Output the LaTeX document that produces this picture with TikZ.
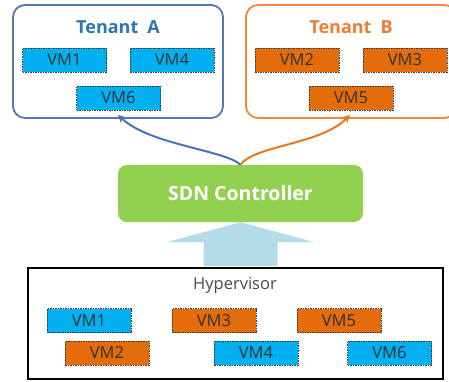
\documentclass[tikz,border=0pt]{standalone}
\usepackage{fontspec}
\setmainfont{Open Sans}
\usetikzlibrary{arrows.meta}

\definecolor{vmblue}{HTML}{00B0F0}
\definecolor{vmorange}{HTML}{E46C0A}
\definecolor{vmline}{HTML}{3A3A3A}
\definecolor{vmtext}{HTML}{333333}
\definecolor{hyptext}{HTML}{4A4A4A}
\definecolor{tenblue}{HTML}{5676B0}
\definecolor{tenbluetext}{HTML}{2E75B6}
\definecolor{tenorange}{HTML}{F0873A}
\definecolor{tenorangetext}{HTML}{ED7D31}
\definecolor{sdngreen}{HTML}{92D050}
\definecolor{feedarrow}{HTML}{B4DCE8}
\definecolor{curveblue}{HTML}{4A72B8}
\definecolor{curveorange}{HTML}{E8771F}

\tikzset{
  vm/.style={draw=vmline, dash pattern=on 1.5pt off 1pt, line width=0.8pt,
    minimum width=84pt, minimum height=24pt, inner sep=0pt, text=vmtext,
    font=\fontsize{16.5}{18}\selectfont},
  bluevm/.style={vm, fill=vmblue},
  orangevm/.style={vm, fill=vmorange},
  tenant/.style={rounded corners=12pt, line width=1.8pt, fill=white,
    minimum width=210pt, minimum height=113pt, inner sep=0pt},
  tenanttitle/.style={font=\bfseries\fontsize{18}{22}\selectfont, inner sep=0pt},
  link/.style={line width=2pt, -{Stealth[length=8pt,width=8pt]}},
}

\begin{document}
\begin{tikzpicture}[x=1pt,y=-1pt]
  \clip (0,0) rectangle (449,381);
  \fill[white] (0,0) rectangle (449,381);

  % tenant groups
  \node[tenant, draw=tenblue] (tenA) at (118,61.5) {};
  \node[tenanttitle, text=tenbluetext] (tenAt) at (118,27) {Tenant\hspace{9pt}A};
  \node[bluevm] (a1) at (64.5,60) {VM1};
  \node[bluevm] (a4) at (172,60) {VM4};
  \node[bluevm] (a6) at (118.5,98) {VM6};

  \node[tenant, draw=tenorange] (tenB) at (351,61.5) {};
  \node[tenanttitle, text=tenorangetext] (tenBt) at (351,27) {Tenant\hspace{9pt}B};
  \node[orangevm] (b2) at (297,60) {VM2};
  \node[orangevm] (b3) at (405,60) {VM3};
  \node[orangevm] (b5) at (351,98) {VM5};

  % controller
  \node[fill=sdngreen, rounded corners=9pt, minimum width=245pt, minimum height=57pt,
        inner sep=0pt, text=white, font=\bfseries\fontsize{19.5}{22}\selectfont]
        (ctrl) at (240.5,193.5) {SDN Controller};

  % hypervisor
  \node[draw=black, line width=1.6pt, minimum width=415pt, minimum height=111pt,
        inner sep=0pt] (hyp) at (235.5,323.5) {};
  \node[text=hyptext, font=\fontsize{16.5}{18}\selectfont, inner sep=0pt]
        (hypt) at (235,285) {Hypervisor};
  \node[bluevm] (h1) at (89,320.5) {VM1};
  \node[orangevm] (h3) at (214,320.5) {VM3};
  \node[orangevm] (h5) at (339,320.5) {VM5};
  \node[orangevm] (h2) at (107,353) {VM2};
  \node[bluevm] (h4) at (256,353) {VM4};
  \node[bluevm] (h6) at (389.5,353) {VM6};

  % upward feed from hypervisor to controller
  \fill[feedarrow] (ctrl.south) -- ++(74,20) -- ++(-37,0) -- ++(0,24)
        -- ++(-74,0) -- ++(0,-24) -- ++(-37,0) -- cycle;

  % controller to tenants
  \draw[link, curveblue] (ctrl.north) .. controls (225,150) and (150,145) .. ([yshift=4pt]tenA.south);
  \draw[link, curveorange] (ctrl.north) .. controls (255,145) and (320,145) .. ([xshift=-1pt,yshift=4pt]tenB.south);
\end{tikzpicture}
\end{document}
